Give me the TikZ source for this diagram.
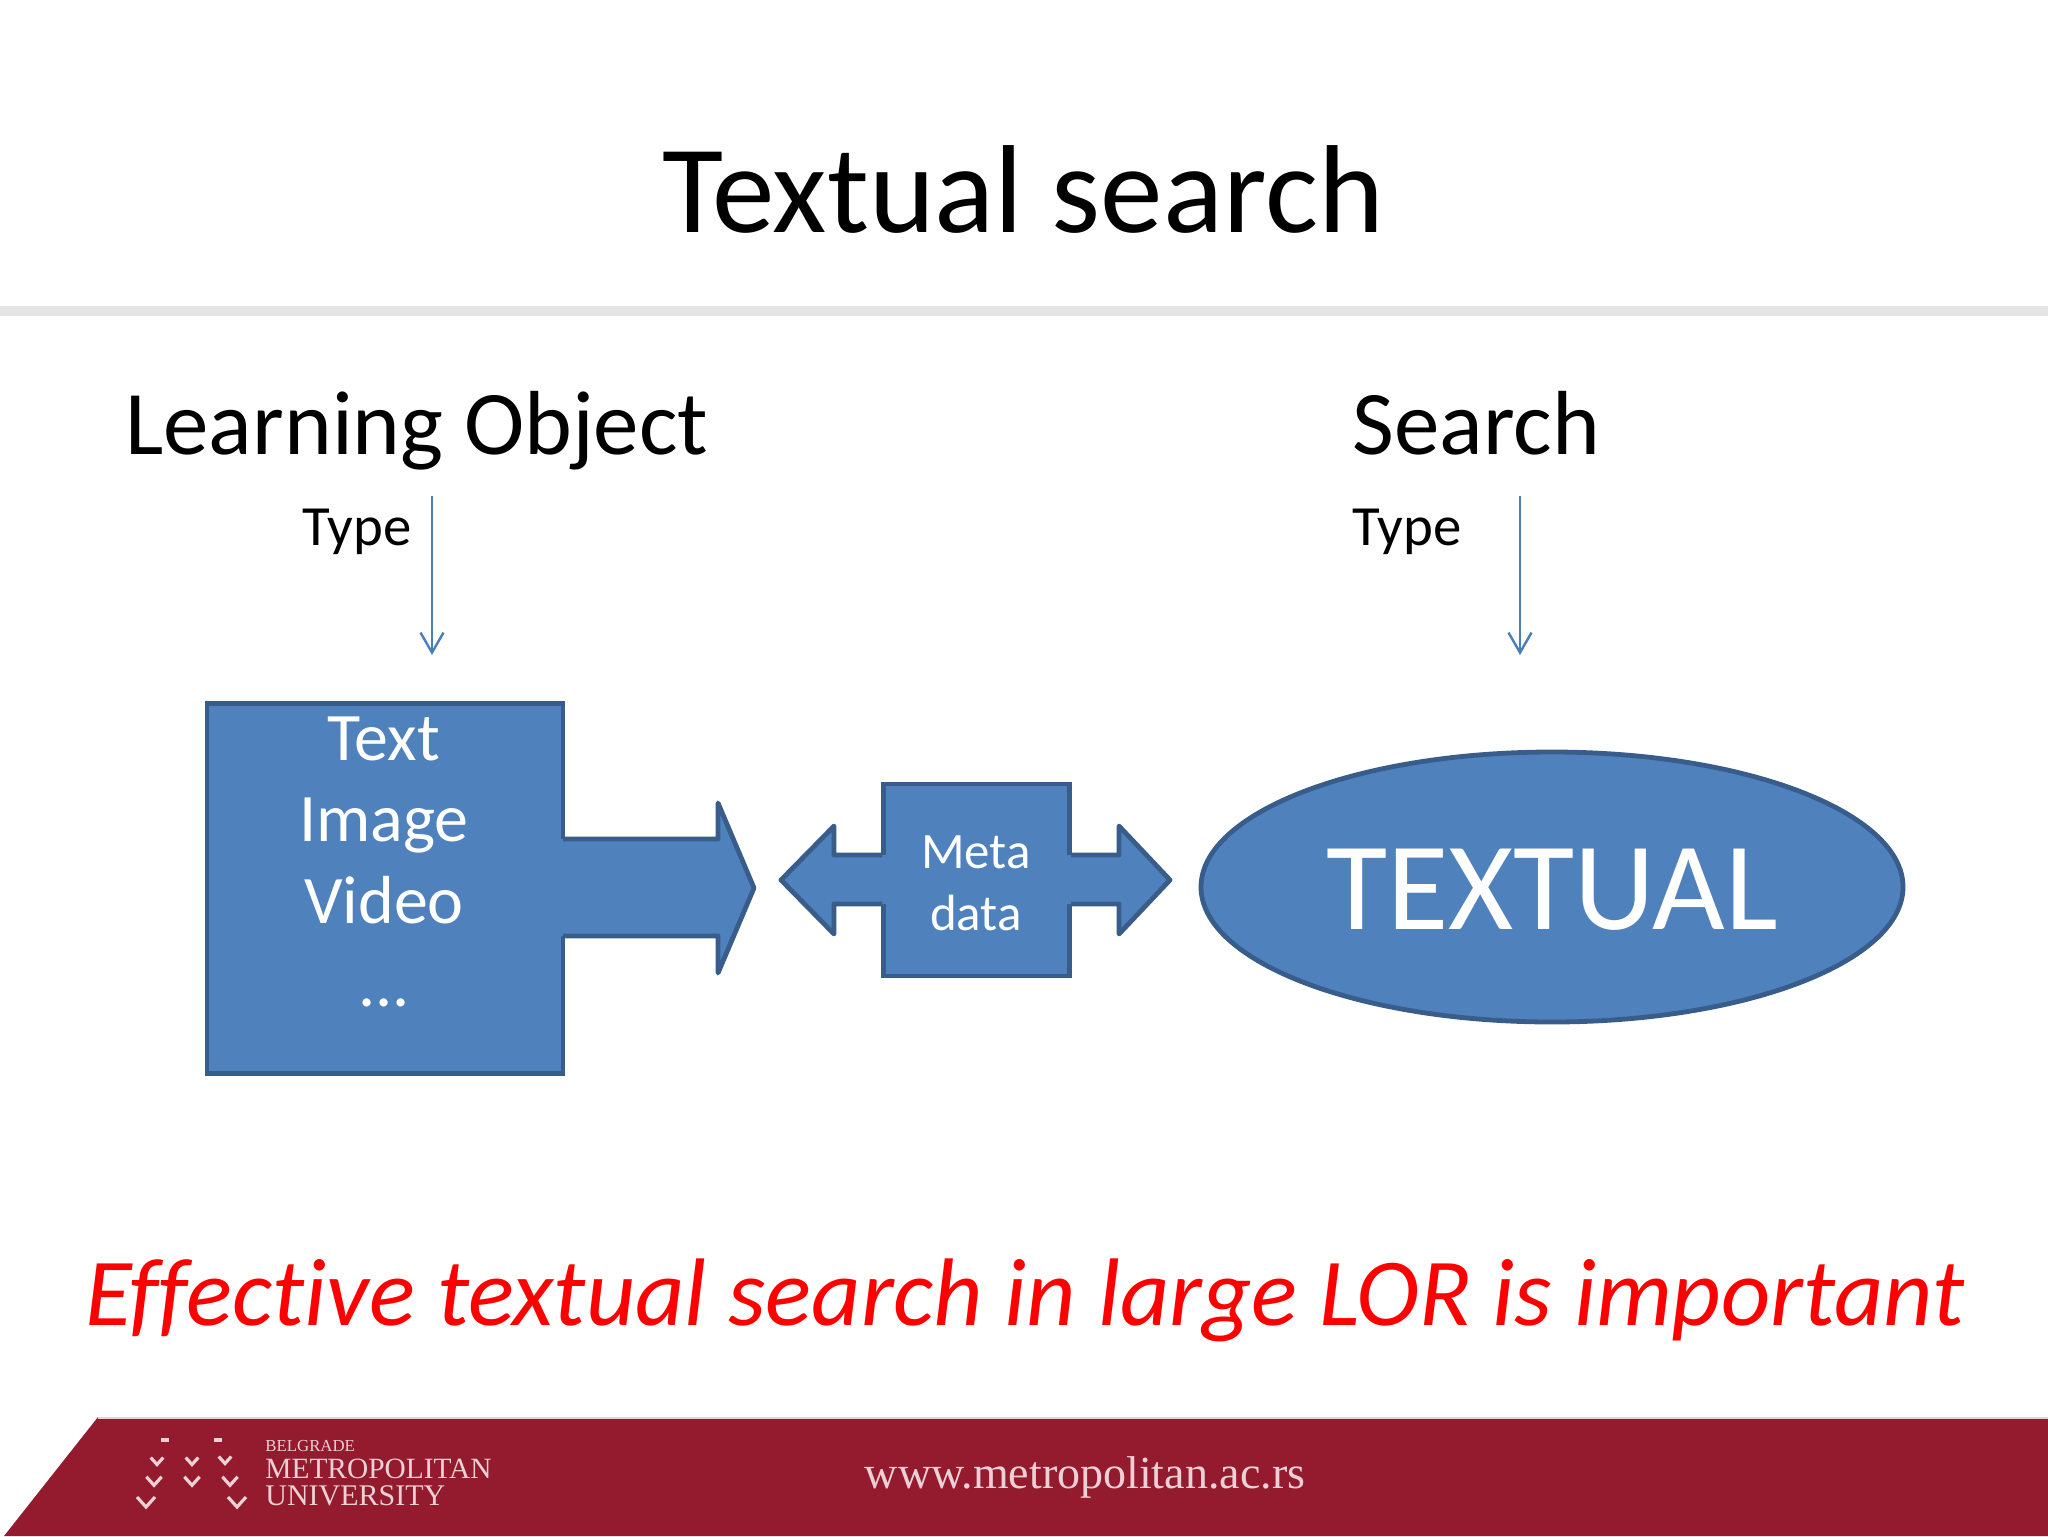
\documentclass[tikz,border=0pt]{standalone}
\usepackage{fontspec}
\setmainfont[Ligatures=CommonOff]{Carlito}
\newfontfamily\logofont{Liberation Serif}
\usepackage{xcolor}
\usetikzlibrary{positioning, arrows.meta, shapes.geometric}
\definecolor{boxfill}{HTML}{4F81BD}
\definecolor{boxline}{HTML}{385D8A}
\definecolor{typeline}{HTML}{4A7EBB}
\definecolor{footred}{HTML}{941A2E}
\definecolor{foottext}{HTML}{EBD0D5}

\begin{document}
\begin{tikzpicture}[x=0.5pt,y=-0.5pt,
		lbl/.style 2 args={anchor=base,inner sep=0pt,text=#2,font=\fontsize{#1}{#1}\selectfont},
		box/.style={draw=boxline,fill=boxfill,line width=2.4pt,inner sep=0pt},
		blockline/.style={draw=boxline,line width=2.4pt,line join=round},
		typearrow/.style={draw=typeline,line width=1.2pt,-{Straight Barb[length=10pt,width=11.5pt]}},
		chev/.style={draw=foottext,line width=1.6pt}
		]
		\useasboundingbox (0,0) rectangle (2048,1536);
		\node[lbl={62.6}{black}] (title) at (1023, 232) {Textual search};
		\fill[gray!20] (0,306) rectangle (2048,316);
		\node[lbl={45.5}{black},anchor=base west] (lo) at (125, 454) {Learning Object};
		\node[lbl={45.5}{black},anchor=base west] (search) at (1352, 454) {Search};
		\node[lbl={28.4}{black},anchor=base west] (type1) at (302, 545) {Type};
		\node[lbl={28.4}{black},anchor=base west] (type2) at (1352, 545) {Type};
		\coordinate (a1) at (432, 496);
		\coordinate (b1) at (432, 655);
		\coordinate (a2) at (1520, 496);
		\coordinate (b2) at (1520, 655);
		\draw[typearrow] (a1) -- (b1);
		\draw[typearrow] (a2) -- (b2);
		% learning object box and its arrow
		\node[box,minimum width=178pt,minimum height=185pt] (lobox) at (385, 888.5) {};
		\fill[boxfill] (560,839) -- (718,839) -- (718,803) -- (754,888) -- (718,973) -- (718,936) -- (560,936) -- cycle;
		\draw[blockline] (563,839) -- (718,839) -- (718,803) -- (754,888) -- (718,973) -- (718,936) -- (563,936);
		\foreach \i [count=\step from 0] in {Text,Image,Video}
		\node[lbl={34}{white}] (lo\step) at (384, 760+81.5*\step) {\i};
		\node[lbl={34}{white}] (lo3) at (384, 1006) {...};
		% metadata box with double arrow
		\node[box,minimum width=93pt,minimum height=96pt] (meta) at (976.5, 880) {};
		\fill[boxfill] (879,855) -- (834,855) -- (834,826) -- (781,880) -- (834,934) -- (834,904) -- (1119,904) -- (1119,934) -- (1170,880) -- (1119,826) -- (1119,855) -- cycle;
		\draw[blockline] (882,855) -- (834,855) -- (834,826) -- (781,880) -- (834,934) -- (834,904) -- (882,904);
		\draw[blockline] (1071,855) -- (1119,855) -- (1119,826) -- (1170,880) -- (1119,934) -- (1119,904) -- (1071,904);
		\node[lbl={25.5}{white}] (meta1) at (976, 868) {Meta};
		\node[lbl={25.5}{white}] (meta2) at (976, 930) {data};
		\node[ellipse,box,minimum width=351pt,minimum height=135pt] (textual) at (1552, 887) {};
		\node[lbl={62.7}{white}] (textuallbl) at (1552, 929) {TEXTUAL};
		\node[lbl={48}{red}] (effect) at (1025, 1325) {\itshape Effective textual search in large LOR is important};
		% footer
		\fill[footred] (4,1536) -- (98,1417) -- (2048,1417) -- (2048,1536) -- cycle;
		\fill[foottext] (98,1417) rectangle (2048,1418.5);
		\foreach \x/\y/\s in {157/1461/0.7,192/1461/0.7,225/1460/0.7,154/1481/0.85,192/1481/0.85,230/1481/0.85,146/1502/1,237/1502/1}
		\draw[chev] (\x-9*\s,\y-5*\s) -- (\x,\y+5*\s) -- (\x+9*\s,\y-5*\s);
		\foreach \x in {165,218}
		\draw[chev] (\x-4,1440) -- (\x+4,1440);
		\node[lbl={8.4}{foottext},anchor=base west] (uni0) at (265, 1451) {\logofont BELGRADE};
		\node[lbl={14.7}{foottext},anchor=base west] (uni1) at (265, 1478) {\logofont METROPOLITAN};
		\node[lbl={15}{foottext},anchor=base west] (uni2) at (265, 1505) {\logofont UNIVERSITY};
		\node[lbl={23}{foottext}] (url) at (1085, 1488) {\logofont www.metropolitan.ac.rs};
\end{tikzpicture}
\end{document}
